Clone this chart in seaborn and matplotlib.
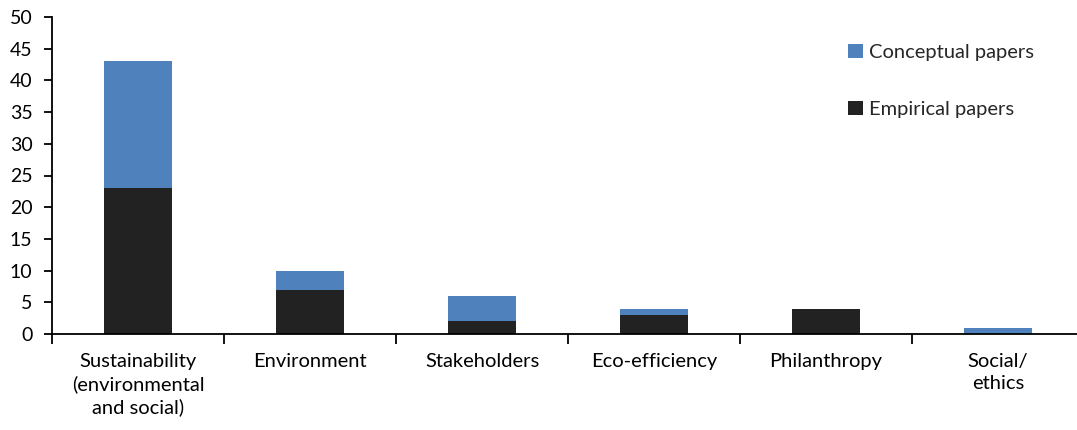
import matplotlib
matplotlib.use("Agg")
import matplotlib.pyplot as plt
import seaborn as sns
import pandas as pd
import numpy as np

categories = ["Sustainability\n(environmental\nand social)", "Environment", "Stakeholders",
              "Eco-efficiency", "Philanthropy", "Social/\nethics"]
empirical = [23, 7, 2, 3, 4, 0]
conceptual = [20, 3, 4, 1, 0, 1]
yticks = [0, 5, 10, 15, 20, 25, 30, 35, 40, 45, 50]

sns.set_theme(style="white")
plt.rcParams['font.family'] = ['Lato', 'DejaVu Sans']

blue = "#4F81BD"
black = "#222222"

df = pd.DataFrame({
    "category": categories,
    "empirical": empirical,
    "total": [e + c for e, c in zip(empirical, conceptual)],
})

fig = plt.figure(figsize=(10.77, 4.30), dpi=100)
ax = fig.add_axes([52/1077, 1 - 334/430, 1032/1077, 317/430])

sns.barplot(data=df, x="category", y="total", color=blue, width=0.4,
            saturation=1, ax=ax, label="Conceptual papers", edgecolor="none")
sns.barplot(data=df, x="category", y="empirical", color=black, width=0.4,
            saturation=1, ax=ax, label="Empirical papers", edgecolor="none")

ax.set_xlim(-0.5, 5.5)
ax.set_ylim(0, 50)
ax.set_yticks(yticks)
ax.set_xlabel("")
ax.set_ylabel("")
for s in ["top", "right"]:
    ax.spines[s].set_visible(False)
for s in ["left", "bottom"]:
    ax.spines[s].set_color("black")
    ax.spines[s].set_linewidth(1.3)

ax.tick_params(axis="y", which="major", left=True, length=6, width=1.3, color="black",
               labelsize=14, pad=8, labelcolor="black")
ax.tick_params(axis="x", which="major", bottom=False, length=0, labelsize=14.5, pad=14,
               labelcolor="black")
for t in ax.get_xticklabels():
    t.set_linespacing(1.32)
ax.set_xticks(np.arange(-0.5, 5.6, 1.0), minor=True)
ax.tick_params(axis="x", which="minor", bottom=True, length=7, width=1.3, color="black")

h, l = ax.get_legend_handles_labels()
leg = fig.legend(h, l, loc="upper left", bbox_to_anchor=(0.771, 0.94), frameon=False,
                 fontsize=14.5, handlelength=0.7, handleheight=0.7, handletextpad=0.3,
                 labelspacing=2.0)
if ax.get_legend() is not None:
    ax.get_legend().remove()

fig.savefig("out.png", dpi=100)
